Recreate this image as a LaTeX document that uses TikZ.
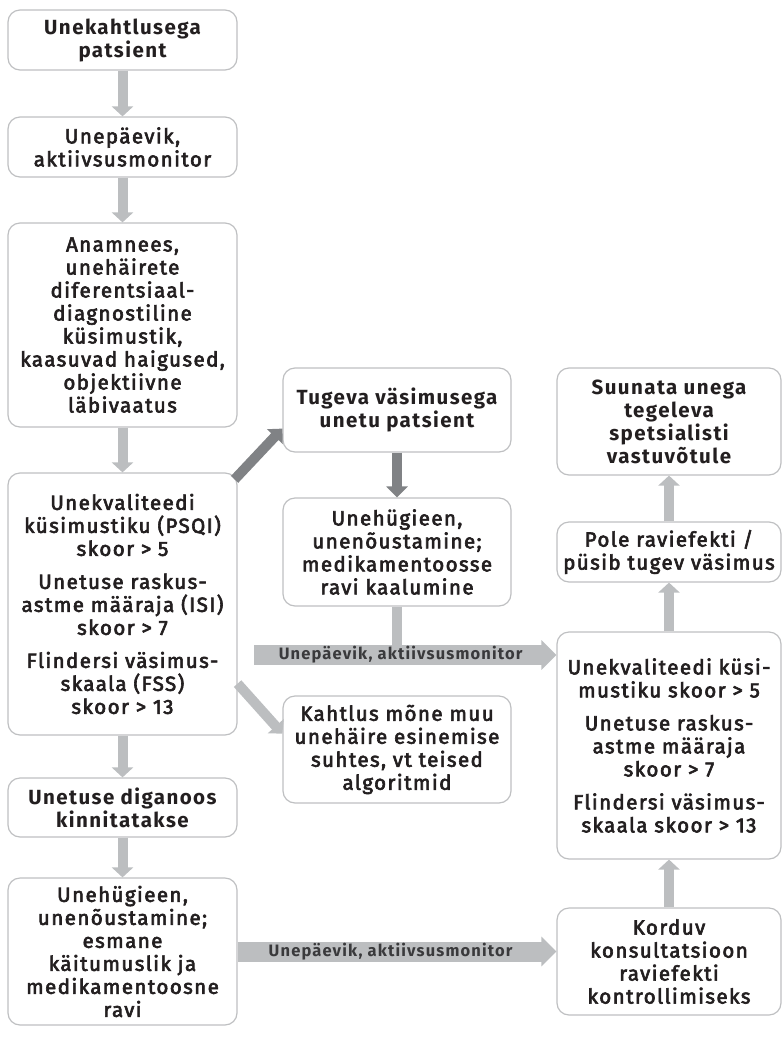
\documentclass[tikz,border=0pt]{standalone}
\usepackage{fontspec}
\setmainfont{Fira Sans}[LetterSpace=7]
\newfontfamily\bodyfont{Fira Sans}[FakeBold=3,LetterSpace=7]
\usetikzlibrary{arrows.meta,calc}
\definecolor{bordergray}{HTML}{BFC0C2}
\definecolor{arrowgray}{HTML}{BCBEC0}
\definecolor{darkarrow}{HTML}{808285}
\definecolor{txt}{HTML}{231F20}
\definecolor{labeltxt}{HTML}{3A3A3C}
\begin{document}
\begin{tikzpicture}[x=1pt,y=-1pt,
  box/.style={draw=bordergray, line width=1.2pt, rounded corners=12pt, fill=white,
    align=center, text=txt, inner sep=2pt,
    font=\bodyfont\fontsize{20.5}{23}\selectfont},
  titlebox/.style={box, font=\bfseries\fontsize{20.5}{23}\selectfont},
  lcol/.style={minimum width=229pt},
  mcol/.style={minimum width=228pt},
  rcol/.style={minimum width=224pt},
  larrow/.style={draw=arrowgray, line width=10pt, -{Triangle[width=21pt,length=10pt]}},
  darrow/.style={draw=darkarrow, line width=10pt, -{Triangle[width=21pt,length=11pt]}},
  shaft/.style={draw=arrowgray, line width=10pt},
  wide/.style={draw=arrowgray, line width=20pt, -{Triangle[width=29pt,length=15pt]}},
  lbl/.style={text=labeltxt, font=\bfseries\fontsize{16.5}{18}\selectfont, inner sep=0pt}
]
\useasboundingbox (0,0) rectangle (782,1037);
% left column
\node[titlebox, lcol, minimum height=60pt] (b1) at (122.5,40) {Unekahtlusega\\patsient};
\node[box, lcol, minimum height=60pt] (b2) at (122.5,147) {Unepäevik,\\aktiivsusmonitor};
\node[box, lcol, minimum height=204pt] (b3) at (122.5,325) {Anamnees,\\unehäirete\\diferentsiaal-\\diagnostiline\\küsimustik,\\kaasuvad haigused,\\objektiivne\\läbivaatus};
\node[box, lcol, minimum height=262pt] (b4) at (122.5,604) {Unekvaliteedi\\küsimustiku (PSQI)\\skoor > 5\\[10pt]Unetuse raskus-\\astme määraja (ISI)\\skoor > 7\\[10pt]Flindersi väsimus-\\skaala (FSS)\\skoor > 13};
\node[titlebox, lcol, minimum height=59pt] (b5) at (122.5,807.5) {Unetuse diganoos\\kinnitatakse};
\node[box, lcol, minimum height=147pt] (b6) at (122.5,951.5) {Unehügieen,\\unenõustamine;\\esmane\\käitumuslik ja\\medikamentoosne\\ravi};
% middle column
\node[titlebox, mcol, minimum height=84pt] (m1) at (397,410) {Tugeva väsimusega\\unetu patsient};
\node[box, mcol, minimum height=108pt] (m2) at (397,552) {Unehügieen,\\unenõustamine;\\medikamentoosse\\ravi kaalumine};
\node[box, mcol, minimum height=107pt] (m3) at (397,749.5) {Kahtlus mõne muu\\unehäire esinemise\\suhtes, vt teised\\algoritmid};
% right column
\node[titlebox, rcol, minimum height=107pt] (r1) at (669,421.5) {Suunata unega\\tegeleva\\spetsialisti\\vastuvõtule};
\node[box, rcol, minimum height=60pt] (r2) at (669,552) {Pole raviefekti /\\püsib tugev väsimus};
\node[box, rcol, minimum height=227pt] (r3) at (669,745.5) {Unekvaliteedi küsi-\\mustiku skoor > 5\\[10pt]Unetuse raskus-\\astme määraja\\skoor > 7\\[10pt]Flindersi väsimus-\\skaala skoor > 13};
\node[box, rcol, minimum height=107pt] (r4) at (669,961.5) {Korduv\\konsultatsioon\\raviefekti\\kontrollimiseks};
% connectors
\draw[larrow] (b1.south) -- (b2.north);
\draw[larrow] (b2.south) -- (b3.north);
\draw[larrow] (b3.south) -- (b4.north);
\draw[larrow] (b4.south) -- (b5.north);
\draw[larrow] (b5.south) -- (b6.north);
\draw[darrow] ($(b4.north east)+(-3,7)$) -- ($(m1.south west)+(0,-24)$);
\draw[darrow] (m1.south) -- (m2.north);
\draw[larrow] ($(b4.south east)+(0,-52)$) -- ($(m3.south west)+(0,-70)$);
\coordinate (h1s) at (254,655);
\draw[shaft] (m2.south) -- (m2.south |- h1s);
\draw[wide] (h1s) -- (h1s -| r3.west) node[lbl, pos=0.485] (l1) {Unepäevik, aktiivsusmonitor};
\draw[wide] (b6.east) -- (b6.east -| r4.west) node[lbl, pos=0.48] (l2) {Unepäevik, aktiivsusmonitor};
\draw[larrow] (r4.north) -- (r3.south);
\draw[larrow] (r3.north) -- (r2.south);
\draw[larrow] (r2.north) -- (r1.south);
\end{tikzpicture}
\end{document}
